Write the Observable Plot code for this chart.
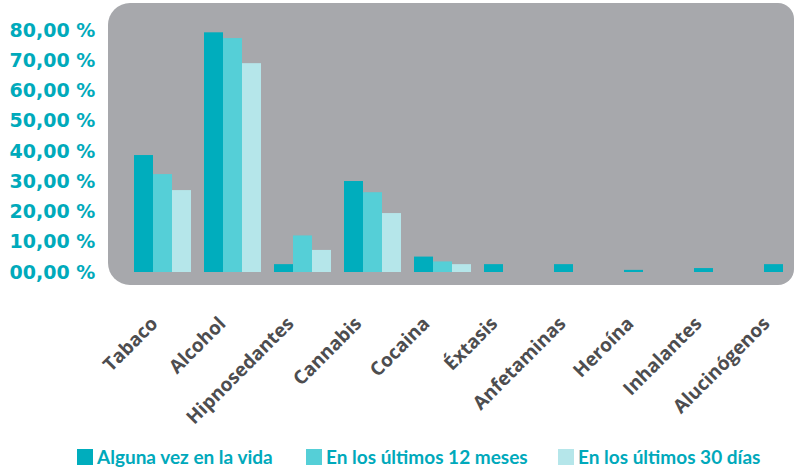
<!DOCTYPE html>
<html>
<head>
<meta charset="utf-8">
<script src="https://cdn.jsdelivr.net/npm/d3@7"></script>
<script src="https://cdn.jsdelivr.net/npm/@observablehq/plot@0.6"></script>
<style>
  html, body { margin: 0; padding: 0; background: #ffffff; overflow: hidden; }
  #wrap { position: relative; width: 794px; height: 469px; overflow: hidden; }
  #panel { position: absolute; left: 108px; top: 3px; width: 686px; height: 282px;
           background: #a7a8ac; border-radius: 22px 16px 16px 22px; }
  #chart, #labels { position: absolute; left: 0; top: 0; }
  #labels svg text { font-family: 'Open Sans', sans-serif; font-weight: 700; }
  .item { position: absolute; top: 445px; display: flex; align-items: center; white-space: nowrap;
          font-family: Lato, sans-serif; font-weight: 700; font-size: 19px; color: #00a9bb; }
  .sw { width: 16px; height: 16px; margin-right: 4px; }
</style>
</head>
<body>
<div id="wrap">
  <div id="panel"></div>
  <div id="chart"></div>
  <div id="labels"></div>
</div>
<script>
const categories = ["Tabaco", "Alcohol", "Hipnosedantes", "Cannabis", "Cocaina", "Éxtasis", "Anfetaminas", "Heroína", "Inhalantes", "Alucinógenos"];
const series = ["Alguna vez en la vida", "En los últimos 12 meses", "En los últimos 30 días"];
const vida    = [38.7, 79.3, 2.6, 30.1, 5.1, 2.6, 2.6, 0.7, 1.3, 2.6];
const meses12 = [32.4, 77.4, 12.1, 26.4, 3.5, 0, 0, 0, 0, 0];
const dias30  = [27.1, 69.1, 7.3, 19.5, 2.6, 0, 0, 0, 0, 0];
const colors = ["#00adbd", "#55cfd7", "#b5e6ea"];
const yTicks = [0, 10, 20, 30, 40, 50, 60, 70, 80];

const valuesBySeries = [vida, meses12, dias30];
const data = [];
categories.forEach((c, i) => {
  series.forEach((s, j) => data.push({cat: c, series: s, value: valuesBySeries[j][i]}));
});

const fmt = d => d3.format("02d")(d) + ",00 %";

const chart = Plot.plot({
  width: 794,
  height: 430,
  marginTop: 3,
  marginBottom: 158,
  marginLeft: 108,
  marginRight: 0,
  style: {background: "transparent", overflow: "visible"},
  fx: {domain: categories, range: [134, 821], paddingInner: 13 / 70, paddingOuter: 0, label: null, axis: null},
  x: {domain: series, padding: 0, axis: null},
  y: {domain: [0, 89], axis: null},
  color: {domain: series, range: colors},
  marks: [
    Plot.barY(data, {fx: "cat", x: "series", y: "value", fill: "series"}),
    Plot.axisY({
      ticks: yTicks, tickFormat: fmt, tickSize: 0, tickPadding: 0,
      textAnchor: "start", dx: -125, fontSize: 19, fontWeight: "bold",
      fontFamily: "'DejaVu Sans', sans-serif", color: "#00aabb", label: null
    })
  ]
});
document.getElementById("chart").appendChild(chart);

// category labels (the reference places them on a slightly tighter spacing than the bars)
const labelAxis = Plot.plot({
  width: 794,
  height: 469,
  marginTop: 0,
  marginBottom: 149,
  marginLeft: 0,
  marginRight: 0,
  style: {background: "transparent", overflow: "visible"},
  x: {type: "point", domain: categories, range: [154, 766], padding: 0},
  y: {axis: null},
  marks: [
    Plot.axisX({
      anchor: "bottom", tickSize: 0, tickPadding: 0, tickRotate: -45,
      textAnchor: "end", fontSize: 19, fontWeight: "bold",
      fontFamily: "'Open Sans', sans-serif", color: "#4d4d4f", label: null
    })
  ]
});
document.getElementById("labels").appendChild(labelAxis);

const wrap = document.getElementById("wrap");
const lefts = [77, 306, 558];
series.forEach((s, i) => {
  const it = document.createElement("div");
  it.className = "item";
  it.style.left = lefts[i] + "px";
  const sw = document.createElement("div");
  sw.className = "sw";
  sw.style.background = colors[i];
  const t = document.createElement("span");
  t.textContent = s;
  it.appendChild(sw);
  it.appendChild(t);
  wrap.appendChild(it);
});
</script>
</body>
</html>
